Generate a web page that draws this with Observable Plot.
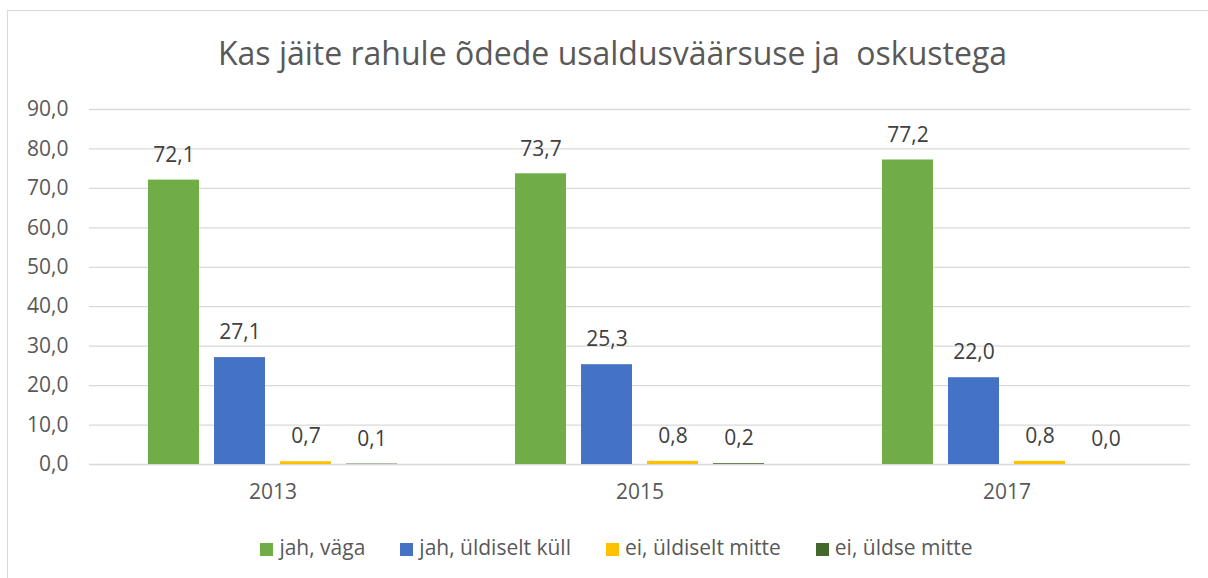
<!DOCTYPE html>
<html><head><meta charset="utf-8">
<script src="https://cdn.jsdelivr.net/npm/d3@7"></script>
<script src="https://cdn.jsdelivr.net/npm/@observablehq/plot@0.6"></script>
<style>
body{margin:0;background:#fff;font-family:"Open Sans",sans-serif;}
#frame{position:absolute;left:7px;top:10px;width:1220px;height:600px;border:1px solid #d9d9d9;box-sizing:border-box;}
#title{position:absolute;left:0;top:31px;width:1225px;text-align:center;font-size:32px;line-height:44px;color:#595959;white-space:pre;}
#chart{position:absolute;left:0;top:0;}
#legend{position:absolute;left:4px;top:532px;width:1225px;display:flex;justify-content:center;gap:35px;font-size:21px;line-height:30px;color:#595959;}
#legend span.sw{display:inline-block;width:13px;height:13px;margin-right:6px;vertical-align:-1px;}
</style></head>
<body>
<div id="frame"></div>
<div id="title">Kas jäite rahule õdede usaldusväärsuse ja  oskustega</div>
<div id="chart"></div>
<div id="legend"></div>
<script>
const years = ["2013", "2015", "2017"];
const series = ["jah, väga", "jah, üldiselt küll", "ei, üldiselt mitte", "ei, üldse mitte"];
const colors = ["#70ad47", "#4472c4", "#ffc000", "#43682b"];
const values2013 = [72.1, 27.1, 0.7, 0.1];
const values2015 = [73.7, 25.3, 0.8, 0.2];
const values2017 = [77.2, 22.0, 0.8, 0.0];
const yTicks = [0, 10, 20, 30, 40, 50, 60, 70, 80, 90];

const byYear = [values2013, values2015, values2017];
const rows = [];
years.forEach((y, i) => series.forEach((s, j) => rows.push({year: y, series: s, value: byYear[i][j]})));
const fmt = d => d.toFixed(1).replace(".", ",");

const chart = Plot.plot({
  width: 1208,
  height: 525,
  marginTop: 109,
  marginBottom: 61,
  marginLeft: 88,
  marginRight: 18,
  style: {fontFamily: "'Open Sans', sans-serif", fontSize: "21px", color: "#595959", background: "transparent"},
  facet: {data: rows, x: "year"},
  fx: {domain: years, padding: 0, axis: "bottom", tickSize: 0, tickPadding: 20, label: null},
  x: {domain: series, paddingInner: 0.227, paddingOuter: 0.89, axis: null},
  y: {domain: [0, 90], ticks: yTicks, tickFormat: fmt, tickSize: 0, tickPadding: 21, label: null, grid: false},
  color: {domain: series, range: colors},
  marks: [
    Plot.ruleY(yTicks, {stroke: "#d9d9d9", strokeWidth: 1.3}),
    Plot.barY(rows, {x: "series", y: "value", fill: "series"}),
    Plot.text(rows, {x: "series", y: "value", text: d => fmt(d.value), dy: -25, fill: "#404040", fontSize: 21})
  ]
});
document.getElementById("chart").appendChild(chart);

const leg = document.getElementById("legend");
series.forEach((s, i) => {
  const item = document.createElement("div");
  item.innerHTML = `<span class="sw" style="background:${colors[i]}"></span>${s}`;
  leg.appendChild(item);
});
</script>
</body></html>
